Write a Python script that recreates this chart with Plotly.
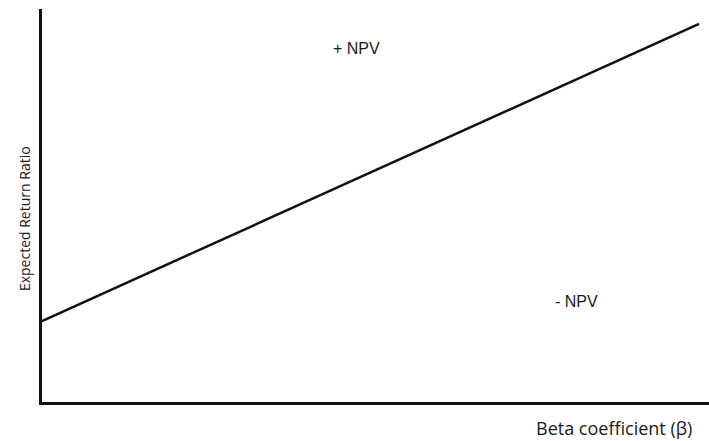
import plotly.graph_objects as go

# Data (normalized axes 0..1)
beta = [0.0, 0.985]
expected_return = [0.206, 0.962]
region_labels = ["+ NPV", "- NPV"]
region_x = [0.4715, 0.801]
region_y = [0.8995, 0.257]
x_title = "Beta coefficient (β)"
y_title = "Expected Return Ratio"

W, H = 709, 441
L, R, T, B = 42, 0, 9, 39

fig = go.Figure()
fig.add_trace(go.Scatter(x=beta, y=expected_return, mode="lines",
                         line=dict(color="#111111", width=2.5),
                         hoverinfo="skip", showlegend=False))

for txt, xx, yy in zip(region_labels, region_x, region_y):
    fig.add_annotation(x=xx, y=yy, xref="x", yref="y", text=txt, showarrow=False,
                       xanchor="center", yanchor="middle",
                       font=dict(family="Liberation Sans, Arial", size=16, color="#1a1a1a"))

fig.add_annotation(x=0.858, y=-0.066, xref="paper", yref="paper", text=x_title,
                   showarrow=False, xanchor="center", yanchor="middle",
                   font=dict(family="Open Sans", size=18, color="#1a1a1a"))
fig.add_annotation(x=-0.027, y=0.468, xref="paper", yref="paper", text=y_title,
                   showarrow=False, textangle=-90, xanchor="center", yanchor="middle",
                   font=dict(family="Open Sans", size=14, color="#1a1a1a"))

fig.update_xaxes(range=[0, 1], showline=True, linecolor="#111111", linewidth=2.5,
                 showgrid=False, zeroline=False, showticklabels=False, ticks="")
fig.update_yaxes(range=[0, 1], showline=True, linecolor="#111111", linewidth=2.5,
                 showgrid=False, zeroline=False, showticklabels=False, ticks="")

fig.update_layout(width=W, height=H, margin=dict(l=L, r=R, t=T, b=B),
                  plot_bgcolor="white", paper_bgcolor="white")

fig.write_html("out.html", config={"responsive": False, "displayModeBar": False},
               post_script="document.body.style.margin='0';document.body.style.padding='0';document.body.style.overflow='hidden';")
